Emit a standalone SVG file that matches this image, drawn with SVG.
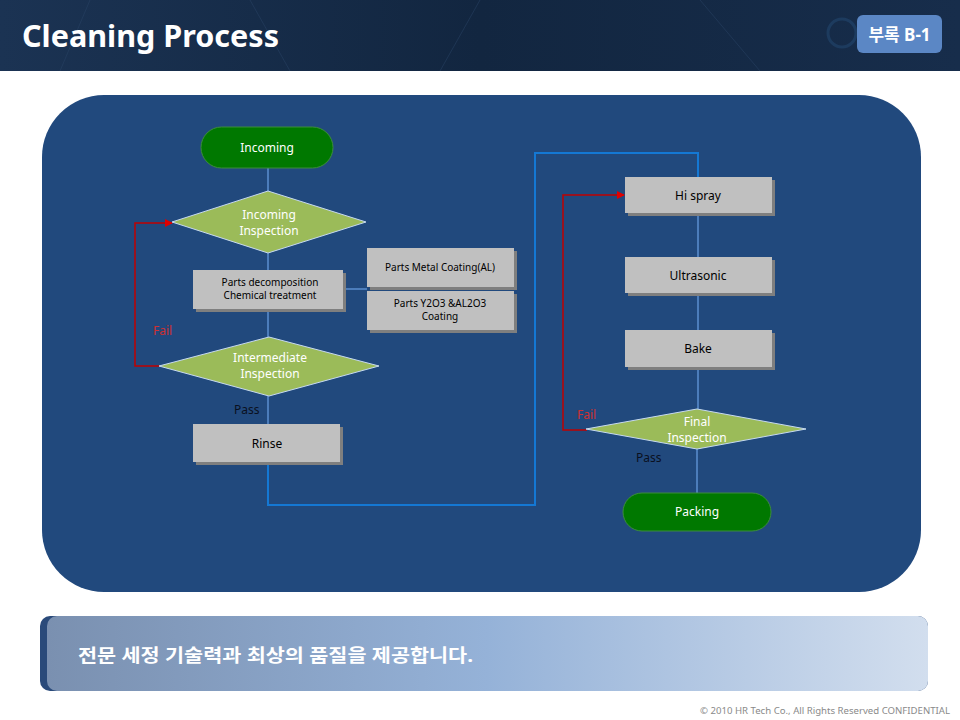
<svg xmlns="http://www.w3.org/2000/svg" width="960" height="720" viewBox="0 0 960 720">
<defs>
<linearGradient id="hdr" x1="0" y1="0" x2="1" y2="0">
<stop offset="0" stop-color="#1b3353"/>
<stop offset="0.5" stop-color="#122640"/>
<stop offset="1" stop-color="#172d4b"/>
</linearGradient>
<linearGradient id="ban" x1="0" y1="0" x2="1" y2="0">
<stop offset="0" stop-color="#7a90b0"/>
<stop offset="0.5" stop-color="#95b2d8"/>
<stop offset="1" stop-color="#d2deee"/>
</linearGradient>
<marker id="arR" markerWidth="8" markerHeight="8" refX="7" refY="4" orient="auto" markerUnits="userSpaceOnUse">
<path d="M0,0 L8,4 L0,8 z" fill="#e00000"/>
</marker>
<style>
.t{font-family:"Noto Sans","Noto Sans CJK KR",sans-serif;}
.box{fill:#c0c0c0;}
.sh{fill:#7f7f7f;}
.dia{fill:#9bbb59;stroke:#c6d9f1;stroke-width:1;}
.pill{fill:#007800;stroke:#3c8c3c;stroke-width:1;}
.bt{font-size:12px;fill:#000;text-anchor:middle;}
.st{font-size:10px;fill:#000;text-anchor:middle;}
.wt{font-size:12px;fill:#ffffff;text-anchor:middle;}
.ln{stroke:#5b8fd0;stroke-width:1.5;fill:none;}
.bl{stroke:#1478d4;stroke-width:2;fill:none;}
.rd{stroke:#c00000;stroke-width:1.5;fill:none;}
.fail{font-size:12px;fill:#d03030;}
.pass{font-size:12px;fill:#0a1020;}
</style>
</defs>
<rect width="960" height="720" fill="#ffffff"/>
<rect x="0" y="0" width="960" height="71" fill="url(#hdr)"/>
<g stroke="#2a4466" stroke-width="1" opacity="0.5">
<line x1="90" y1="0" x2="60" y2="71"/>
<line x1="250" y1="0" x2="290" y2="71"/>
<line x1="480" y1="0" x2="440" y2="71"/>
<line x1="700" y1="0" x2="760" y2="71"/>
</g>
<circle cx="842" cy="33" r="14" fill="none" stroke="#2c5a8a" stroke-width="3" opacity="0.35"/>
<text class="t" x="22" y="47" font-size="30" font-weight="bold" fill="#ffffff" textLength="257" lengthAdjust="spacingAndGlyphs">Cleaning Process</text>
<g id="badge">
<rect x="857" y="15" width="85" height="38" rx="6" fill="#5b87c5"/>
<text class="t" x="899.5" y="41" font-size="17" font-weight="bold" fill="#ffffff" text-anchor="middle">부록 B-1</text>
</g>
<rect x="42" y="95" width="879" height="497" rx="62" fill="#21497d"/>
<g id="connectors">
<line class="ln" x1="268" y1="168" x2="268" y2="191"/>
<line class="ln" x1="268" y1="253" x2="268" y2="270"/>
<line class="ln" x1="268" y1="309" x2="268" y2="337"/>
<line class="ln" x1="343" y1="289" x2="367" y2="289"/>
<line class="ln" x1="268" y1="396" x2="268" y2="424"/>
<polyline class="bl" points="268,462 268,505 535,505 535,153 698,153 698,177"/>
<line class="ln" x1="698" y1="213" x2="698" y2="257"/>
<line class="ln" x1="698" y1="293" x2="698" y2="330"/>
<line class="ln" x1="698" y1="367" x2="698" y2="409"/>
<line class="ln" x1="697" y1="449" x2="697" y2="493"/>
<polyline class="rd" points="160,366 135,366 135,223 172,223" marker-end="url(#arR)"/>
<polyline class="rd" points="587,430 563,430 563,195 624,195" marker-end="url(#arR)"/>
<text class="t fail" x="153" y="335">Fail</text>
<text class="t pass" x="234" y="414">Pass</text>
<text class="t fail" x="577" y="419">Fail</text>
<text class="t pass" x="636" y="462">Pass</text>
</g>
<g id="incoming">
<rect class="pill" x="201" y="127" width="132" height="41" rx="20.5"/>
<text class="t wt" x="267" y="152">Incoming</text>
</g>
<g id="incoming-inspection">
<polygon class="dia" points="268,191 366,222 268,253 172,222"/>
<text class="t wt" x="269" y="219">Incoming</text>
<text class="t wt" x="269" y="235">Inspection</text>
</g>
<g id="parts-decomposition">
<rect class="sh" x="196" y="273" width="150" height="39"/>
<rect class="box" x="193" y="270" width="150" height="39"/>
<text class="t st" x="270" y="286">Parts decomposition</text>
<text class="t st" x="270" y="299">Chemical treatment</text>
</g>
<g id="metal-coating">
<rect class="sh" x="370" y="251" width="147" height="39"/>
<rect class="box" x="367" y="248" width="147" height="39"/>
<text class="t st" x="440" y="271">Parts Metal Coating(AL)</text>
</g>
<g id="y2o3-coating">
<rect class="sh" x="370" y="294" width="147" height="39"/>
<rect class="box" x="367" y="291" width="147" height="39"/>
<text class="t st" x="440" y="307">Parts Y2O3 &amp;AL2O3</text>
<text class="t st" x="440" y="320">Coating</text>
</g>
<g id="intermediate-inspection">
<polygon class="dia" points="269,337 379,366 269,396 159,366"/>
<text class="t wt" x="270" y="362">Intermediate</text>
<text class="t wt" x="270" y="378">Inspection</text>
</g>
<g id="rinse">
<rect class="sh" x="196" y="427" width="147" height="38"/>
<rect class="box" x="193" y="424" width="147" height="38"/>
<text class="t bt" x="267" y="448">Rinse</text>
</g>
<g id="hi-spray">
<rect class="sh" x="628" y="180" width="147" height="36"/>
<rect class="box" x="625" y="177" width="147" height="36"/>
<text class="t bt" x="698" y="200">Hi spray</text>
</g>
<g id="ultrasonic">
<rect class="sh" x="628" y="260" width="147" height="36"/>
<rect class="box" x="625" y="257" width="147" height="36"/>
<text class="t bt" x="698" y="280">Ultrasonic</text>
</g>
<g id="bake">
<rect class="sh" x="628" y="333" width="147" height="37"/>
<rect class="box" x="625" y="330" width="147" height="37"/>
<text class="t bt" x="698" y="353">Bake</text>
</g>
<g id="final-inspection">
<polygon class="dia" points="697,409 806,429 697,449 586,429"/>
<text class="t wt" x="697" y="426">Final</text>
<text class="t wt" x="697" y="442">Inspection</text>
</g>
<g id="packing">
<rect class="pill" x="623" y="493" width="148" height="38" rx="19"/>
<text class="t wt" x="697" y="516">Packing</text>
</g>
<g id="banner">
<rect x="40" y="616" width="888" height="75" rx="10" fill="#2a4a7a"/>
<rect x="47" y="616" width="881" height="75" rx="10" fill="url(#ban)"/>
<text class="t" x="78" y="662" font-size="18" font-weight="bold" fill="#ffffff" textLength="395" lengthAdjust="spacingAndGlyphs">전문 세정 기술력과 최상의 품질을 제공합니다.</text>
</g>
<text class="t" x="950" y="714" font-size="9" fill="#8a8a8a" text-anchor="end" textLength="250" lengthAdjust="spacingAndGlyphs">© 2010 HR Tech Co., All Rights Reserved  CONFIDENTIAL</text>
</svg>
